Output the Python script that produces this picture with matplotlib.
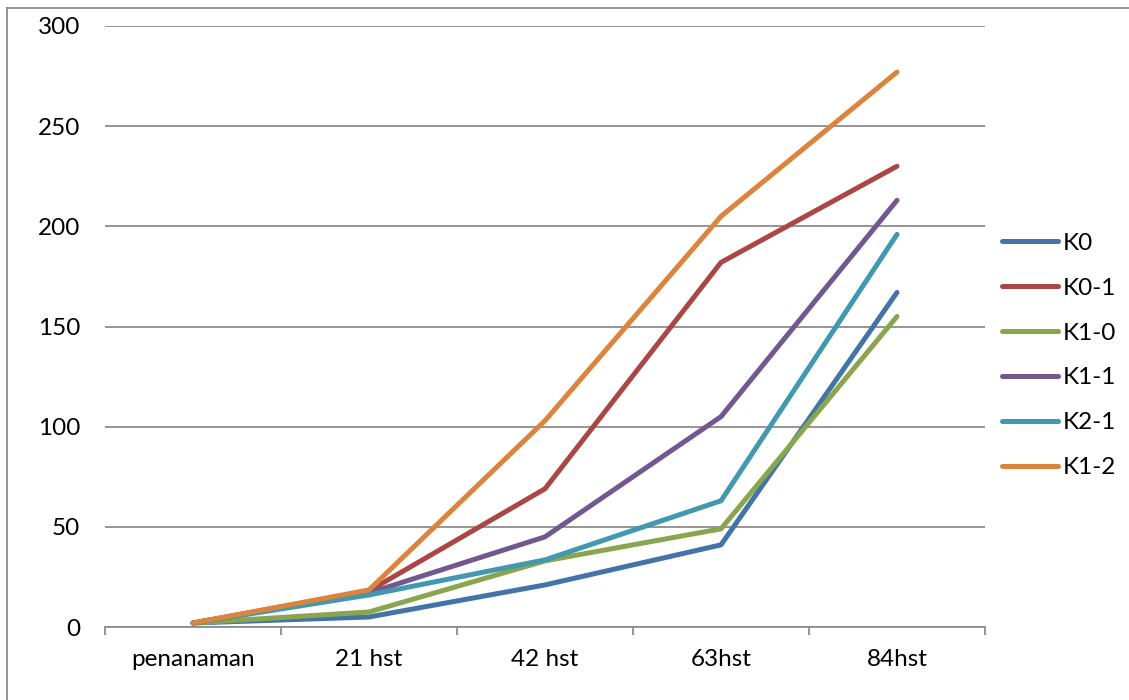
"""
plot.py
=======
Line chart: plant growth per treatment over days after planting (hst).
Output: out.png
"""
import matplotlib.pyplot as plt
from matplotlib.lines import Line2D

categories = ["penanaman", "21 hst", "42 hst", "63hst", "84hst"]
series_names = ["K0", "K0-1", "K1-0", "K1-1", "K2-1", "K1-2"]

k0 = [2, 5, 21, 41, 167]
k0_1 = [2, 18, 69, 182, 230]
k1_0 = [2, 7.5, 33, 49, 155]
k1_1 = [2, 17, 45, 105, 213]
k2_1 = [2, 16, 33.5, 63, 196]
k1_2 = [2, 18.5, 103, 205, 277]

yticks = [0, 50, 100, 150, 200, 250, 300]

# Excel 2007 style colours (darker line variants)
COLORS = ["#4473A8", "#AA4643", "#89A54E", "#71588F", "#4198AF", "#DB843D"]

plt.rcParams["font.family"] = ["Lato", "DejaVu Sans"]

fig = plt.figure(figsize=(11.29, 7), dpi=100)
ax = fig.add_axes([105 / 1129, 1 - 627 / 700, 880 / 1129, 601 / 700])

x = list(range(len(categories)))
all_series = [k0, k0_1, k1_0, k1_1, k2_1, k1_2]
for name, vals, c in zip(series_names, all_series, COLORS):
    ax.plot(x, vals, color=c, lw=3.6, solid_capstyle="round",
            solid_joinstyle="round", label=name)

ax.set_xlim(-0.5, len(categories) - 0.5)
ax.set_ylim(0, 300)
ax.set_yticks(yticks)
ax.yaxis.grid(True, color="#8c8c8c", lw=1.3)
ax.set_axisbelow(True)

ax.set_xticks(x)
ax.set_xticklabels(categories)
ax.set_xticks([i - 0.5 for i in range(len(categories) + 1)], minor=True)
ax.tick_params(axis="x", which="major", length=0, pad=16, labelsize=17.5)
ax.tick_params(axis="x", which="minor", length=6, width=1.3,
               color="#8c8c8c", direction="out")
ax.tick_params(axis="y", length=0, pad=18, labelsize=17.5)

for side in ["top", "right", "left"]:
    ax.spines[side].set_visible(False)
ax.spines["bottom"].set_color("#8c8c8c")
ax.spines["bottom"].set_linewidth(1.3)

handles = [Line2D([0], [0], color=c, lw=3.6, solid_capstyle="round")
           for c in COLORS]
fig.legend(handles, series_names, loc="upper left",
           bbox_to_anchor=(980 / 1129, 1 - 211 / 700), frameon=False,
           fontsize=17.5, handlelength=2.3, handletextpad=0.2,
           labelspacing=0.98)

# chart border (left and top visible in the original crop)
fig.add_artist(Line2D([7 / 1129, 7 / 1129], [0, 1 - 8 / 700],
                      transform=fig.transFigure, color="#8c8c8c", lw=1.3))
fig.add_artist(Line2D([7 / 1129, 1], [1 - 8 / 700, 1 - 8 / 700],
                      transform=fig.transFigure, color="#8c8c8c", lw=1.3))

fig.savefig("out.png", dpi=100)
